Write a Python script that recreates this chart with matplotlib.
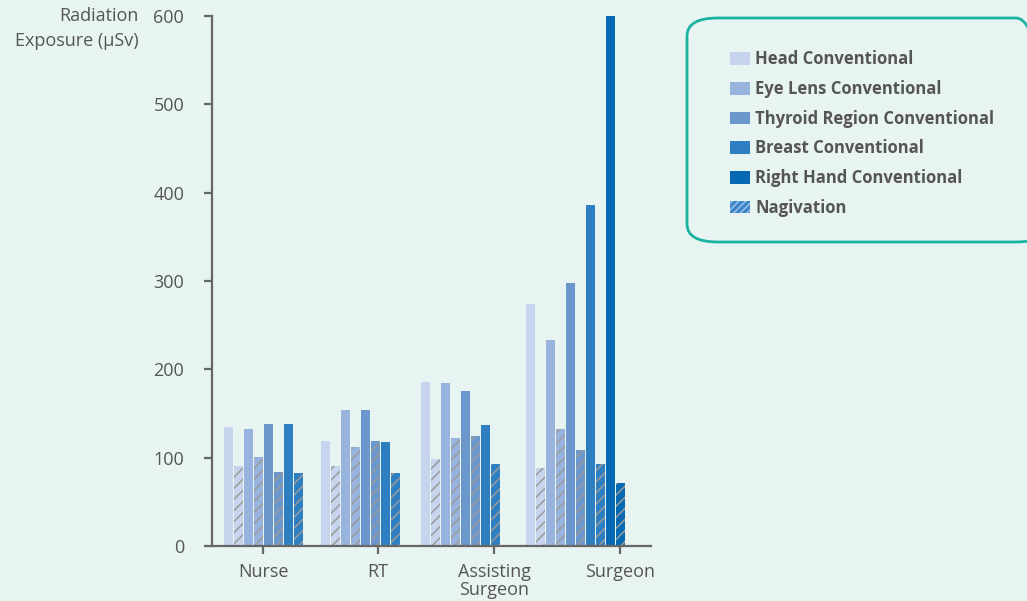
import numpy as np
import matplotlib.pyplot as plt
from matplotlib.patches import Patch, FancyBboxPatch

# Data (µSv)
groups = ['Nurse', 'RT', 'Assisting\nSurgeon', 'Surgeon']
series = ['Head', 'Eye Lens', 'Thyroid Region', 'Breast', 'Right Hand']

head_conv = [135, 119, 186, 274]
head_nav = [91, 91, 99, 88]
eye_conv = [132, 154, 184, 233]
eye_nav = [101, 112, 122, 133]
thyroid_conv = [138, 154, 175, 298]
thyroid_nav = [84, 119, 125, 109]
breast_conv = [138, 118, 137, 386]
breast_nav = [83, 83, 93, 93]
hand_conv = [np.nan, np.nan, np.nan, 600]
hand_nav = [np.nan, np.nan, np.nan, 71]

y_ticks = [0, 100, 200, 300, 400, 500, 600]


def draw_plot():
    bg = '#e8f4f1'
    text_col = '#555555'
    axis_col = '#666666'
    colors = ['#c6d5ed', '#98b3dd', '#6b97cd', '#2e7fc2', '#0569b3']
    hatch_col = '#9a9a9a'

    conv = [head_conv, eye_conv, thyroid_conv, breast_conv, hand_conv]
    nav = [head_nav, eye_nav, thyroid_nav, breast_nav, hand_nav]

    plt.rcParams['font.family'] = ['Open Sans', 'DejaVu Sans']
    plt.rcParams['hatch.linewidth'] = 1.1

    fig = plt.figure(figsize=(10.27, 6.01), dpi=100, facecolor=bg)
    # axes measured in pixels so x units are pixels too
    ax = fig.add_axes([212 / 1027, 55 / 601, 439 / 1027, 530 / 601])
    ax.set_facecolor(bg)
    ax.set_xlim(212, 651)
    ax.set_ylim(0, 600)

    # layout of the bar groups (pixel positions)
    group_start = [224, 321, 421, 526]
    tick_pos = [263, 378, 494, 620]
    step = 10
    width = 9

    for gi, start in enumerate(group_start):
        for si in range(len(series)):
            x = start + 2 * si * step
            if not np.isnan(conv[si][gi]):
                ax.bar(x, conv[si][gi], width=width, align='edge',
                       color=colors[si], linewidth=0)
            if not np.isnan(nav[si][gi]):
                ax.bar(x + step, nav[si][gi], width=width, align='edge',
                       facecolor=colors[si], edgecolor=hatch_col,
                       hatch='///', linewidth=0)

    # axes styling
    for side in ['top', 'right']:
        ax.spines[side].set_visible(False)
    for side in ['left', 'bottom']:
        ax.spines[side].set_color(axis_col)
        ax.spines[side].set_linewidth(1.6)

    ax.set_yticks(y_ticks)
    ax.tick_params(axis='y', colors=axis_col, labelcolor=text_col,
                   labelsize=13, length=6, width=1.6, pad=14)
    ax.set_xticks(tick_pos)
    ax.set_xticklabels(groups, linespacing=1.0)
    ax.tick_params(axis='x', colors=axis_col, labelcolor=text_col,
                   labelsize=13, length=6, width=1.6, pad=6)

    fig.text(139 / 1027, 1 - 7 / 601, 'Radiation\nExposure (µSv)',
             ha='right', va='top', fontsize=13, color=text_col,
             linespacing=1.5)

    # legend with rounded teal frame
    box = FancyBboxPatch((687 / 1027, 1 - 242 / 601),
                         360 / 1027, 224 / 601,
                         boxstyle='round,pad=0,rounding_size=0.03',
                         transform=fig.transFigure, facecolor='none',
                         edgecolor='#1ab3a0', linewidth=2)
    fig.patches.append(box)

    handles = [Patch(facecolor=c, linewidth=0) for c in colors]
    labels = [s + ' Conventional' for s in series]
    handles.append(Patch(facecolor='#3a84c8', edgecolor='#9cc0ea',
                         hatch='/////', linewidth=0))
    labels.append('Nagivation')
    fig.legend(handles, labels, loc='upper left',
               bbox_to_anchor=(722 / 1027, 1 - 42 / 601),
               frameon=False, handlelength=1.2, handleheight=0.8,
               handletextpad=0.3, labelspacing=0.7, borderpad=0,
               prop={'weight': 'bold', 'size': 12}, labelcolor=text_col)

    plt.savefig('out.png', dpi=100, facecolor=bg)
    return ax


draw_plot()
